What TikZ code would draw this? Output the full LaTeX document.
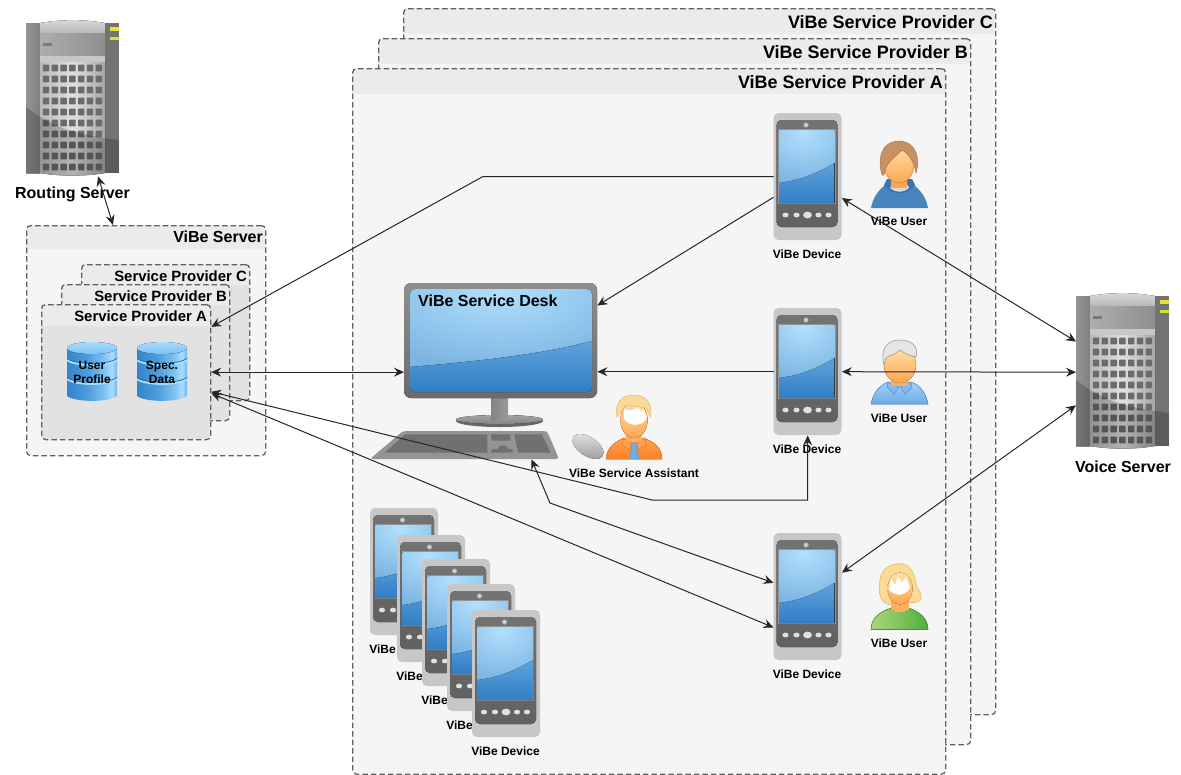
\documentclass[tikz,border=0pt]{standalone}
\usepackage{fontspec}
\setmainfont{Liberation Sans}
\usetikzlibrary{arrows.meta,calc}
\definecolor{dbA}{HTML}{3585CB}
\definecolor{dbB}{HTML}{4C9BDD}
\definecolor{dbC}{HTML}{7FC2F2}
\definecolor{dbD}{HTML}{A8DCFF}
\definecolor{bodyA}{gray}{.96}
\definecolor{bodyB}{gray}{.885}
\definecolor{scrLo}{HTML}{5FA3DC}
\definecolor{scrLoB}{HTML}{307EC4}
\definecolor{scrHi}{HTML}{B2E0FD}
\definecolor{scrHiB}{HTML}{7CB5E2}
\definecolor{hoodie}{HTML}{4884BE}
\definecolor{hoodieD}{HTML}{3C73AF}
\definecolor{hair}{HTML}{C69264}
\definecolor{hairD}{HTML}{A87848}
\definecolor{skinL}{HTML}{FFE2AA}
\definecolor{skinM}{HTML}{FCAF5F}
\definecolor{skinD}{HTML}{FDA550}
\definecolor{skinE}{HTML}{E18C3C}
\definecolor{shirtL}{HTML}{A0D2FA}
\definecolor{shirtM}{HTML}{82B9EE}
\definecolor{shirtD}{HTML}{6EAAE6}
\definecolor{shirtE}{HTML}{5A8CC3}
\definecolor{blond}{HTML}{FADA96}
\definecolor{blondE}{HTML}{E8B969}
\definecolor{greenL}{HTML}{AFD57D}
\definecolor{greenD}{HTML}{4EAF3E}
\definecolor{greenE}{HTML}{419637}
\definecolor{orL}{HTML}{FFA050}
\definecolor{orD}{HTML}{FA8228}
\definecolor{orE}{HTML}{E67828}
\definecolor{tie}{HTML}{6EAFE6}
\definecolor{tieE}{HTML}{508CC8}
\definecolor{ledA}{HTML}{E6E632}
\definecolor{ledB}{HTML}{C4E832}
\pgfdeclarehorizontalshading{dbshade}{100bp}{color(0bp)=(dbA);color(25bp)=(dbA);color(45bp)=(dbB);color(62bp)=(dbC);color(70bp)=(dbD);color(78bp)=(dbB);color(100bp)=(dbA)}
\tikzset{
  x=1pt,y=-1pt,
  >={Stealth[length=10pt,width=9pt,inset=3.5pt]},
  boxline/.style={draw=black!62,line width=1.25pt,dash pattern=on 5.5pt off 3pt,rounded corners=4pt},
  link/.style={draw=black!85,line width=1pt},
  lbl/.style={inner sep=0pt,font=\fontsize{12}{14}\selectfont\bfseries,align=center},
  midlbl/.style={inner sep=0pt,font=\fontsize{16}{18}\selectfont\bfseries},
  sublbl/.style={inner sep=0pt,font=\fontsize{14.9}{17}\selectfont\bfseries},
  toplbl/.style={inner sep=0pt,font=\fontsize{18}{20}\selectfont\bfseries},
  phone/.pic={
    \fill[black!22,rounded corners=5pt] (0,0) rectangle (68,127);
    \fill[top color=black!55,bottom color=black!62,rounded corners=5pt] (3,7) rectangle (64,114);
    \fill[black!42] (4.5,16) rectangle (62,91);
    \begin{scope}
      \clip (5.5,17) rectangle (61,90);
      \fill[inner color=scrHi,outer color=scrHiB] (-30,-30) rectangle (90,70);
      \fill[scrHiB] (5.5,69) rectangle (61,90);
      \fill[top color=scrLo,bottom color=scrLoB]
        (5.5,70) .. controls (25,68) and (45,60) .. (61,50) -- (61,90) -- (5.5,90) -- cycle;
    \end{scope}
    \fill[black!30] (32.5,12) circle (2.6);
    \fill[cyan!30!white] (32.5,12) circle (1.6);
    \foreach \bx in {12,23,45,55}{\fill[black!12] (\bx,102) ellipse (3.1 and 2.4);}
    \fill[black!12] (34,102) ellipse (4.4 and 3.4);
  },
  server/.pic={
    \fill[left color=black!42,right color=black!50] (0,3) rectangle (14,153);
    \fill[black!55] (79,3) rectangle (93,153);
    \fill[top color=black!15,bottom color=black!28] (14,3) .. controls (35,-0.8) and (58,-0.8) .. (79,3) -- (79,13) -- (14,13) -- cycle;
    \fill[left color=black!32,right color=black!44] (14,13) rectangle (79,36);
    \fill[black!22] (14,36) rectangle (79,42);
    \fill[left color=black!28,right color=black!35,middle color=black!12] (14,42) -- (79,42) -- (79,153) .. controls (60,156.5) and (33,156.5) .. (14,153) -- cycle;
    \foreach \i in {0,...,6}{\foreach \j in {0,...,9}{
      \pgfmathsetmacro\cx{20+8.8*\i}\pgfmathsetmacro\cy{48+11*\j}
      \fill[black!58,rounded corners=0.6pt] (\cx-3.2,\cy-3.3) rectangle (\cx+3.2,\cy+3.3);}}
    \fill[black,opacity=.2] (0,87) -- (14,97) .. controls (35,110) and (60,116) .. (93,120) -- (93,153) -- (79,153) .. controls (60,156.5) and (33,156.5) .. (14,153) -- (0,153) -- cycle;
    \fill[ledA] (84,7) rectangle (93,11);
    \fill[ledB] (84,17) rectangle (93,20);
    \fill[black!52] (17,23) rectangle (26,26);
  },
  database/.pic={
    \foreach \dy in {38,19}{
      \shade[shading=dbshade] (0,{\dy-4}) -- (0,{\dy+16}) .. controls (8,{\dy+22.5}) and (42,{\dy+22.5}) .. (50,{\dy+16}) -- (50,{\dy-4}) -- cycle;}
    \shade[shading=dbshade] (0,6) -- (0,16) .. controls (8,22.5) and (42,22.5) .. (50,16) -- (50,6) -- cycle;
    \foreach \dy in {0,19}{
      \draw[dbD,line width=2pt] (0,{\dy+18}) .. controls (8,{\dy+24.5}) and (42,{\dy+24.5}) .. (50,{\dy+18});
      \draw[dbA!75!black,line width=.7pt] (0,{\dy+16.4}) .. controls (8,{\dy+22.9}) and (42,{\dy+22.9}) .. (50,{\dy+16.4});}
    \fill[top color=dbD,bottom color=dbC] (25,6) ellipse (25 and 6);
  },
  boy/.pic={
    \fill[hoodie] (0,67) .. controls (2,56) and (8,48) .. (17,42) -- (40,42) .. controls (49,48) and (55,56) .. (57,67) -- cycle;
    \fill[hoodieD] (13,44) .. controls (20,55) and (37,55) .. (44,44) -- (41,38) -- (16,38) -- cycle;
    \fill[black!14] (19,47) .. controls (24,52) and (33,52) .. (38,47) -- (36,43) -- (21,43) -- cycle;
    \fill[top color=skinM,bottom color=skinD] (20,30) rectangle (36,46);
    \fill[top color=skinL,bottom color=skinD,draw=skinE,line width=.5pt] (28,23) ellipse (15 and 19);
    \fill[hair,draw=hairD,line width=.5pt]
      (11,34) .. controls (7,20) and (8,1) .. (28,0) .. controls (47,1) and (49,20) .. (45,32)
      .. controls (44,25) and (40,14) .. (31,9) .. controls (25,16) and (15,20) .. (13,34) -- cycle;
  },
  oldman/.pic={
    \fill[top color=shirtL,bottom color=shirtD,draw=shirtE,line width=.5pt]
      (0,64) .. controls (2,53) and (9,45) .. (17,42) -- (40,42) .. controls (49,45) and (55,53) .. (57,64) -- cycle;
    \fill[shirtM,draw=shirtE,line width=.5pt] (17,42) -- (28,47) -- (23,54) -- (16,47) -- cycle;
    \fill[shirtM,draw=shirtE,line width=.5pt] (40,42) -- (29,47) -- (34,54) -- (41,47) -- cycle;
    \fill[skinM] (20,32) rectangle (37,46);
    \fill[top color=skinL,bottom color=skinD,draw=skinE,line width=.5pt] (29,25) ellipse (16 and 18);
    \fill[black!10,draw=black!40,line width=.6pt]
      (13,25) .. controls (9,10) and (15,0) .. (29,0) .. controls (42,0) and (48,8) .. (45,17)
      .. controls (40,16) and (34,14) .. (29,10) .. controls (25,15) and (18,15) .. (15,18) -- cycle;
  },
  blonde/.pic={
    \fill[blond,draw=blondE,line width=.6pt]
      (18,41) .. controls (5,38) and (8,20) .. (10,12) .. controls (14,2) and (24,0) .. (28,0) .. controls (42,0) and (44,14) .. (46,24) .. controls (52,32) and (53,40) .. (40,39) -- cycle;
    \fill[left color=greenL,right color=greenD,draw=greenE,line width=.6pt]
      (0,66) .. controls (0,54) and (10,48) .. (19,45) .. controls (24,50) and (33,50) .. (39,45) .. controls (47,48) and (57,54) .. (57,66) -- cycle;
    \fill[skinM] (20,34) -- (38,34) -- (38,46) .. controls (33,50) and (24,50) .. (20,46) -- cycle;
    \fill[top color=skinL,bottom color=skinD] (29,25) ellipse (12.5 and 16);
    \fill[white] (18,26) -- (20,15) -- (24,21) -- (27,13) -- (31,19) -- (35,14) -- (39,24) .. controls (36,32) and (24,34) .. (18,26) -- cycle;
  },
  assistant/.pic={
    \fill[top color=orL,bottom color=orD,draw=orE,line width=.5pt]
      (0,64) .. controls (1,52) and (9,47) .. (18,43) -- (38,43) .. controls (47,47) and (56,52) .. (56,64) -- cycle;
    \fill[orL,draw=orE,line width=.5pt] (17,44) -- (27,48) -- (23,54) -- (16,50) -- cycle;
    \fill[orL,draw=orE,line width=.5pt] (39,44) -- (29,48) -- (33,54) -- (40,50) -- cycle;
    \fill[skinM] (20,30) rectangle (36,47);
    \fill[top color=skinL,bottom color=skinD,draw=skinE,line width=.4pt] (28,25) ellipse (13.5 and 18);
    \fill[blond,draw=blondE,line width=.5pt]
      (11,22) .. controls (8,8) and (16,0) .. (27,0) .. controls (40,0) and (47,8) .. (44.5,22) -- (40,13) -- (20,10) -- cycle;
    \fill[white] (18,14) .. controls (24,17) and (30,14) .. (32,12) -- (35,17) -- (37,14) -- (41,22) .. controls (38,31) and (24,33) .. (18,24) -- cycle;
    \fill[tie,draw=tieE,line width=.4pt] (24.5,48) -- (31.5,48) -- (30.5,52) -- (33,64) -- (23.5,64) -- (26,52) -- cycle;
  }
}
\newcommand{\phoneunit}[3]{%
  \pic at (#2,#3) {phone};
  \node[inner sep=0pt,minimum width=68pt,minimum height=127pt,anchor=north west] (#1) at (#2,#3) {};
  \node[lbl] (#1-label) at ({#2+33.5},{#3+141}) {ViBe Device};
}
\newcommand{\containerbox}[7]{% name x1 y1 x2 y2 headerbottom bodycolor
  \fill[#7,rounded corners=4pt] (#2,#3) rectangle (#4,#5);
  \begin{scope}
    \clip[rounded corners=4pt] (#2,#3) rectangle (#4,#5);
    \fill[black!8] (#2,#3) rectangle (#4,#6);
  \end{scope}
  \node[boxline,inner sep=0pt,anchor=north west,minimum width={#4-#2},minimum height={#5-#3}] (#1) at (#2,#3) {};
}
\begin{document}
\begin{tikzpicture}
\useasboundingbox (0,0) rectangle (1181,774);

% big provider stacks
\containerbox{pc}{403}{8}{995}{714}{34}{bodyA}
\node[toplbl,anchor=east] (pcl) at (993,22) {ViBe Service Provider C};
\containerbox{pb}{378}{38}{970}{744}{64}{bodyA}
\node[toplbl,anchor=east] (pbl) at (968,52) {ViBe Service Provider B};
\containerbox{pa}{352}{68}{945}{773.5}{94}{bodyA}
\node[toplbl,anchor=east] (pal) at (943,82) {ViBe Service Provider A};

% ViBe Server
\containerbox{vs}{26}{225}{265}{455}{249}{bodyA}
\node[midlbl,anchor=east] (vsl) at (263,237) {ViBe Server};
\containerbox{sc}{81}{264}{249}{400}{285}{bodyB}
\node[sublbl,anchor=east] (scl) at (247,276) {Service Provider C};
\containerbox{sb}{61}{284}{229}{420}{305}{bodyB}
\node[sublbl,anchor=east] (sbl) at (227,296) {Service Provider B};
\containerbox{sa}{41}{304}{210}{439}{326}{bodyB}
\node[sublbl,anchor=east] (sal) at (207,316) {Service Provider A};
\pic at (67,342) {database};
\pic at (137,342) {database};
\node[lbl] (dbu) at (92,372) {User\\Profile};
\node[lbl] (dbs) at (162,372) {Spec.\\Data};

% servers
\pic at (26,20) {server};
\node[inner sep=0pt,minimum width=93pt,minimum height=156pt,anchor=north west] (rs) at (26,20) {};
\node[midlbl] (rsl) at (72.5,194) {Routing Server};
\pic at (1076,293) {server};
\node[inner sep=0pt,minimum width=94pt,minimum height=158pt,anchor=north west] (voice) at (1076,293) {};
\node[midlbl] (vol) at (1123,467) {Voice Server};

% monitor
\node[inner sep=0pt,minimum width=193pt,minimum height=115pt,anchor=north west] (mon) at (404,283) {};
\fill[black!60] (499.5,421) ellipse (43.5 and 6);
\fill[top color=black!36,bottom color=black!48] (499.5,419.5) ellipse (43.5 and 4.5);
\fill[left color=black!48,right color=black!40] (491,396) rectangle (508,420);
\fill[top color=black!44,bottom color=black!58,rounded corners=7pt] (404,283) rectangle (597,398);
\begin{scope}
  \clip[rounded corners=5pt] (410,289) rectangle (592,392);
  \fill[inner color=scrHi,outer color=scrHiB] (340,210) rectangle (660,370);
  \fill[scrHiB] (410,360) rectangle (592,392);
  \fill[top color=scrLo,bottom color=scrLoB]
    (410,367) .. controls (470,362) and (540,355) .. (592,341) -- (592,392) -- (410,392) -- cycle;
\end{scope}
\node[midlbl,anchor=west] (msl) at (418,301) {ViBe Service Desk};

% keyboard and mouse
\fill[black!42,rounded corners=3pt] (370,459) -- (403,431) -- (547,431) -- (559,459) -- cycle;
\fill[black!56] (385,452.7) -- (405,434.3) -- (487.3,434.3) -- (487.3,452.7) -- cycle;
\fill[black!56] (490.7,434.3) -- (510.7,434.3) -- (510,440.7) -- (491.7,440.7) -- cycle;
\fill[black!56] (491,452.7) -- (492,449) -- (498,449) -- (500,445.5) -- (506,445.5) -- (508,449) -- (512,449) -- (513,452.7) -- cycle;
\fill[black!56] (514.3,434.3) -- (541.7,434.3) -- (550.7,452.7) -- (518.3,452.7) -- cycle;
\node[inner sep=0pt,minimum width=189pt,minimum height=28pt,anchor=north west] (kb) at (370,431) {};
\fill[top color=black!12,bottom color=black!38,rotate around={-33:(588,446.5)}] (588,446.5) ellipse (17.5 and 9.5);

% assistant
\pic at (606,395) {assistant};
\node[lbl] (asl) at (634,473) {ViBe Service Assistant};

% stacked devices
\phoneunit{s1}{370}{508}
\phoneunit{s2}{397}{535}
\phoneunit{s3}{422}{559}
\phoneunit{s4}{447}{584}
\phoneunit{s5}{472}{610}

% main devices and users
\phoneunit{p1}{773.5}{113}
\phoneunit{p2}{773.5}{308}
\phoneunit{p3}{773.5}{533}
\pic at (871,141) {boy};
\node[lbl] (u1) at (899,221) {ViBe User};
\pic at (871,340) {oldman};
\node[lbl] (u2) at (899,418) {ViBe User};
\pic at (871,563.5) {blonde};
\node[lbl] (u3) at (899,643) {ViBe User};

% connectors
\coordinate (j1) at (483,176.5);
\coordinate (j2) at (652,500);
\coordinate (j3) at (807.5,500);
\coordinate (j4) at (550,503);
\draw[link,<->] (rs.-72.6) -- (vs.106.7);
\draw[link,->] (p1.west) -- (j1) -- (sa.28.3);
\draw[link,->] (p1.211) -- (mon.20.7);
\draw[link,->] (p2.west) -- (mon.east |- p2.west);
\draw[link,<->] (sa.east) -- (mon.west |- sa.east);
\draw[link,<->] (sa.-13.6) -- (j2) -- (j3) -- (p2.south);
\draw[link,<->] (kb.-12) -- (j4) -- (p3.158.3);
\draw[link,<->] (sa.-14.9) -- (p3.222.8);
\draw[link,<->] (p1.-32.3) -- (voice.147.4);
\draw[link,<->] (p2.east) -- (voice.west);
\draw[link,<->] (p3.35.8) -- (voice.215.9);
\end{tikzpicture}
\end{document}
